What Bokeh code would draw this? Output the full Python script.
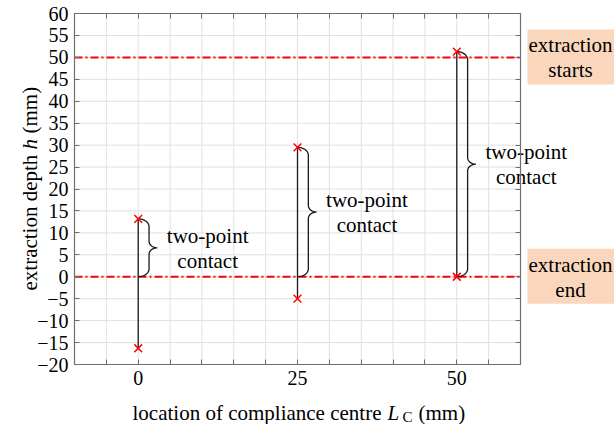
import numpy as np
from bokeh.plotting import figure
from bokeh.models import (Range1d, FixedTicker, LinearAxis, Label, ColumnDataSource,
                          BoxAnnotation, Grid)
from bokeh.embed import file_html
from bokeh.resources import INLINE

# ---------------- data ----------------
lc = [0, 25, 50]                      # location of compliance centre (mm)
h_upper = [13.2, 29.5, 51.3]          # upper extraction depth (mm)
h_lower = [-16.3, -5.0, 0.0]          # lower extraction depth (mm)
extraction_start = 50
extraction_end = 0
brace_line1 = ["two-point"] * 3
brace_line2 = ["contact"] * 3

x_ticks = list(range(-10, 61, 5))
x_tick_labels = {0: "0", 25: "25", 50: "50"}
y_ticks = list(range(-20, 61, 5))
y_tick_labels = [("\u2212%d" % -t) if t < 0 else str(t) for t in y_ticks]

X0, X1, Y0, Y1 = -10, 60, -20, 60

# ---------------- layout (pixel box of the axes inside a 614x424 canvas) ----------------
W, H = 614, 424
FL, FR, FT, FB = 74, 520, 13, 364
kx = (X1 - X0) / (FR - FL)
ky = (Y1 - Y0) / (FB - FT)
XS, XE = X0 - FL * kx, X1 + (W - FR) * kx
YS, YE = Y0 - (H - FB) * ky, Y1 + FT * ky

def dx(px):
    return XS + px * kx
def dy(py):
    return YE - py * ky

FONT = "'Liberation Serif', 'Times New Roman', Times, 'DejaVu Serif', serif"
AX = "#6e6e6e"

p = figure(width=W, height=H, x_range=Range1d(XS, XE), y_range=Range1d(YS, YE),
           output_backend="svg", toolbar_location=None,
           x_axis_location=None, y_axis_location=None, min_border=0)
p.background_fill_color = "white"
p.border_fill_color = "white"
p.outline_line_color = None
p.center = [c for c in p.center if not isinstance(c, Grid)]

xt = FixedTicker(ticks=x_ticks, minor_ticks=[])
yt = FixedTicker(ticks=y_ticks, minor_ticks=[])

# grid lines
p.segment(x0=x_ticks, y0=[Y0] * len(x_ticks), x1=x_ticks, y1=[Y1] * len(x_ticks),
          line_color="#e0e0e0", line_width=1)
p.segment(x0=[X0] * len(y_ticks), y0=y_ticks, x1=[X1] * len(y_ticks), y1=y_ticks,
          line_color="#e0e0e0", line_width=1)

def make_axis(ticker, loc, bounds, labels):
    a = LinearAxis(ticker=ticker, fixed_location=loc, bounds=bounds,
                   axis_line_color=AX, axis_line_width=1.2,
                   major_tick_line_color=AX, major_tick_line_width=1,
                   major_tick_in=5, major_tick_out=0, minor_tick_line_color=None,
                   major_label_text_font=FONT, major_label_text_color="black")
    if labels is None:
        a.major_label_text_font_size = "0px"
        a.major_label_overrides = {t: "" for t in ticker.ticks}
        a.major_label_standoff = 0
    else:
        a.major_label_text_font_size = "20px"
        a.major_label_overrides = labels
    return a

ax = make_axis(xt, Y0, (X0, X1), {t: x_tick_labels.get(t, "") for t in x_ticks})
ax.major_label_standoff = 6
ay = make_axis(yt, X0, (Y0, Y1), {t: l for t, l in zip(y_ticks, y_tick_labels)})
ay.major_label_standoff = 6
p.add_layout(ax, "below")
p.add_layout(ay, "left")
p.add_layout(make_axis(xt, Y1, (X0, X1), None), "above")
p.add_layout(make_axis(yt, X1, (Y0, Y1), None), "right")

# red dash-dot lines
p.segment(x0=[X0, X0], y0=[extraction_start, extraction_end],
          x1=[X1, X1], y1=[extraction_start, extraction_end],
          line_color="#ff0000", line_width=2, line_dash="8 3 2 3")

# vertical black lines
p.segment(x0=lc, y0=h_lower, x1=lc, y1=h_upper, line_color="#1a1a1a", line_width=1.3)

# braces
def brace(x0, top, bot, rx1=1.7, rx2=1.3, ry1=1.8, ry2=1.5):
    mid = (top + bot) / 2
    t = np.linspace(0, np.pi / 2, 12)
    cx = x0 + rx1 + rx2
    xs = list(x0 + rx1 * np.sin(t)) + list(cx - rx2 * np.cos(t)) + \
         list(cx - rx2 * np.sin(t)) + list(x0 + rx1 * np.cos(t))
    ys = list(top - ry1 + ry1 * np.cos(t)) + list(mid + ry2 - ry2 * np.sin(t)) + \
         list(mid - ry2 + ry2 * np.cos(t)) + list(bot + ry1 - ry1 * np.sin(t))
    return xs, ys

bx, by = [], []
for x0, top in zip(lc, h_upper):
    xs, ys = brace(x0, top, extraction_end)
    bx.append(xs); by.append(ys)
p.multi_line(xs=bx, ys=by, line_color="#1a1a1a", line_width=1.3)

# markers
p.scatter(x=lc + lc, y=h_upper + h_lower, marker="x", size=11,
          line_color="#ff0000", line_width=1.5)

# brace labels
src = ColumnDataSource(dict(x=[v + 10.9 for v in lc],
                            y=[(t + extraction_end) / 2 for t in h_upper],
                            l1=brace_line1, l2=brace_line2))
tkw = dict(text_align="center", text_baseline="middle", text_font={"value": FONT},
           text_font_size="21px", text_color="black")
p.text(x="x", y="y", text="l1", source=src, y_offset=-12, **tkw)
p.text(x="x", y="y", text="l2", source=src, y_offset=13, **tkw)

# boxes at the right
for yv, l1, l2 in ((extraction_start, "extraction", "starts"),
                   (extraction_end, "extraction", "end")):
    p.add_layout(BoxAnnotation(left=dx(527), right=dx(640),
                               top=yv + 28 * ky, bottom=yv - 27 * ky,
                               fill_color="#FAD7BC", fill_alpha=1, line_color=None,
                               level="underlay"))
    p.add_layout(Label(x=dx(570), y=yv, y_offset=12, text=l1, text_align="center",
                       text_baseline="middle", text_font=FONT, text_font_size="21px",
                       text_color="black"))
    p.add_layout(Label(x=dx(570), y=yv, y_offset=-13, text=l2, text_align="center",
                       text_baseline="middle", text_font=FONT, text_font_size="21px",
                       text_color="black"))

# x axis label
kw = dict(text_font=FONT, text_color="black", text_baseline="alphabetic", text_align="left")
p.add_layout(Label(x=dx(132), y=dy(412), text="location of compliance centre",
                   text_font_size="21px", **kw))
p.add_layout(Label(x=dx(387), y=dy(412), text="L", text_font_size="21px",
                   text_font_style="italic", **kw))
p.add_layout(Label(x=dx(402), y=dy(416), text="C", text_font_size="15px", **kw))
p.add_layout(Label(x=dx(418), y=dy(412), text="(mm)", text_font_size="21px", **kw))

# y axis label (rotated)
ang = np.pi / 2
p.add_layout(Label(x=dx(29), y=dy(290), text="extraction depth", angle=ang,
                   text_font_size="21px", **kw))
p.add_layout(Label(x=dx(29), y=dy(149), text="h", angle=ang, text_font_style="italic",
                   text_font_size="21px", **kw))
p.add_layout(Label(x=dx(29), y=dy(133), text="(mm)", angle=ang,
                   text_font_size="21px", **kw))

open("out.html", "w").write(file_html(p, INLINE))
